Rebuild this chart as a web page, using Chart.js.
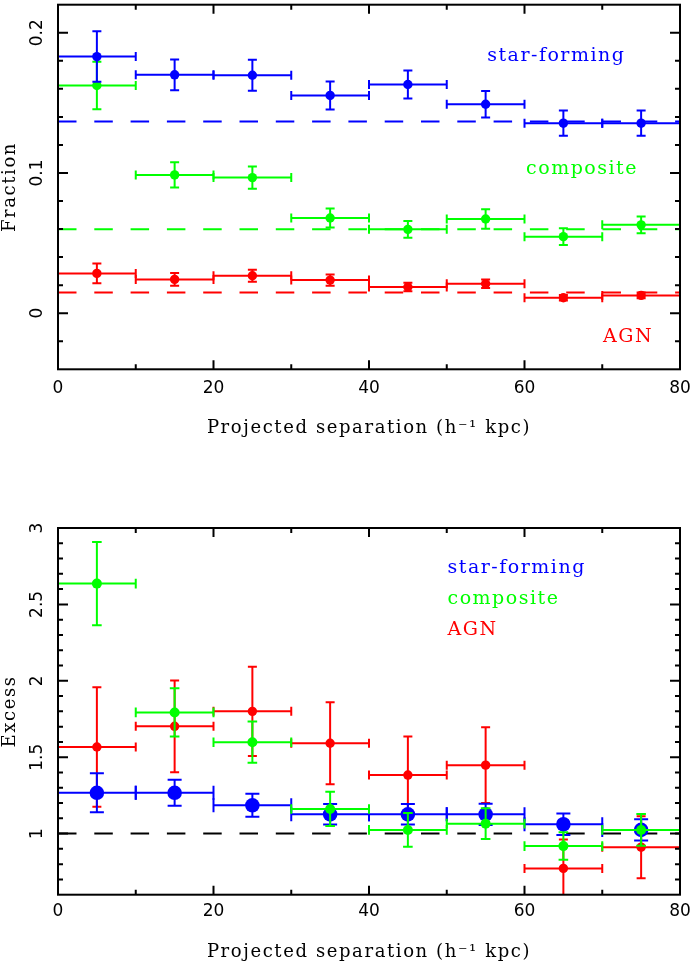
<!DOCTYPE html>
<html><head><meta charset="utf-8">
<script src="https://cdn.jsdelivr.net/npm/chart.js@4.4.1/dist/chart.umd.min.js"></script>
<style>
html,body{margin:0;padding:0;background:#fff;}
#wrap{position:relative;width:693px;height:964px;overflow:hidden;}
canvas{position:absolute;left:0;}
#c1{top:0;}
#c2{top:482px;}
</style></head><body>
<div id="wrap">
<canvas id="c1" width="693" height="482" style="width:693px;height:482px"></canvas>
<canvas id="c2" width="693" height="482" style="width:693px;height:482px"></canvas>
</div>
<script>
// ---------------- data ----------------
const separation = [5, 15, 25, 35, 45, 55, 65, 75];          // bin centres (h^-1 kpc)
const binHalfWidth = [5, 5, 5, 5, 5, 5, 5, 5];
const seriesNames = ['star-forming', 'composite', 'AGN'];

// top panel: fraction
const fracSF      = [0.183, 0.170, 0.1697, 0.1553, 0.1631, 0.149, 0.1355, 0.1355];
const fracSFErr   = [0.018, 0.011, 0.011, 0.010, 0.010, 0.0095, 0.009, 0.009];
const fracComp    = [0.1624, 0.0986, 0.0967, 0.0679, 0.0598, 0.0672, 0.0546, 0.063];
const fracCompErr = [0.017, 0.009, 0.008, 0.0067, 0.006, 0.007, 0.006, 0.006];
const fracAGN     = [0.0284, 0.0241, 0.0267, 0.0236, 0.0187, 0.021, 0.011, 0.0127];
const fracAGNErr  = [0.0071, 0.0045, 0.0043, 0.004, 0.003, 0.003, 0.002, 0.002];
const fracAverage = [0.1367, 0.0598, 0.0147];   // SF, composite, AGN field averages

// bottom panel: excess
const excSF       = [1.267, 1.267, 1.185, 1.126, 1.126, 1.126, 1.061, 1.024];
const excSFErr    = [0.128, 0.085, 0.075, 0.067, 0.067, 0.07, 0.07, 0.07];
const excComp     = [2.636, 1.793, 1.598, 1.161, 1.024, 1.065, 0.918, 1.024];
const excCompErr  = [0.272, 0.158, 0.135, 0.112, 0.11, 0.101, 0.09, 0.104];
const excAGN      = [1.567, 1.702, 1.80, 1.591, 1.383, 1.448, 0.772, 0.911];
const excAGNErr   = [0.391, 0.30, 0.292, 0.268, 0.252, 0.248, 0.19, 0.203];
const excBaseline = 1;

// ticks
const xTicks = [0, 20, 40, 60, 80];
const xTickLabels = ['0', '20', '40', '60', '80'];
const xMinorTicks = [10, 30, 50, 70];
const yTicksTop = [0, 0.1, 0.2];
const yTickLabelsTop = ['0', '0.1', '0.2'];
const yMinorTop = [-0.02, 0.02, 0.04, 0.06, 0.08, 0.12, 0.14, 0.16, 0.18];
const yTicksBot = [1, 1.5, 2, 2.5, 3];
const yTickLabelsBot = ['1', '1.5', '2', '2.5', '3'];
const yMinorBot = [0.7, 0.8, 0.9, 1.1, 1.2, 1.3, 1.4, 1.6, 1.7, 1.8, 1.9, 2.1, 2.2, 2.3, 2.4, 2.6, 2.7, 2.8, 2.9];

// ---------------- styling ----------------
const BLUE = '#0000ff', GREEN = '#00ff00', RED = '#ff0000';
const tickFont = {family: 'DejaVu Sans', size: 17};
const serifFont = {family: 'DejaVu Serif', size: 18, lineHeight: 1.1};
const xTitle = 'Projected separation (h\u207B\u00B9 kpc)';

function pts(ys) { return separation.map((x, i) => ({x: x, y: ys[i]})); }

function errSet(ys, errs, color, r, cap) {
  return {data: pts(ys), xErr: binHalfWidth, yErr: errs, capSize: cap,
    backgroundColor: color, borderColor: color, pointRadius: r, pointBorderWidth: 0,
    pointHoverRadius: r, showLine: false};
}
function hLine(v, color) {
  return {data: [{x: 0, y: v}, {x: 80, y: v}], showLine: true, borderColor: color,
    borderWidth: 2, borderDash: [18.5, 17.8], pointRadius: 0, fill: false};
}

const errorBarPlugin = {
  id: 'errbars',
  beforeDatasetDraw(chart, args) {
    const ds = chart.data.datasets[args.index];
    if (!ds.yErr) return;
    const {ctx, chartArea: a} = chart;
    const xs = chart.scales.x, ys = chart.scales.y;
    ctx.save();
    ctx.beginPath(); ctx.rect(a.left, a.top, a.right - a.left, a.bottom - a.top); ctx.clip();
    ctx.strokeStyle = ds.borderColor; ctx.lineWidth = 2; ctx.lineCap = 'butt';
    const c = ds.capSize;
    ds.data.forEach((p, i) => {
      const px = xs.getPixelForValue(p.x), py = ys.getPixelForValue(p.y);
      const xl = xs.getPixelForValue(p.x - ds.xErr[i]), xr = xs.getPixelForValue(p.x + ds.xErr[i]);
      const yt = ys.getPixelForValue(p.y + ds.yErr[i]), yb = ys.getPixelForValue(p.y - ds.yErr[i]);
      ctx.beginPath();
      ctx.moveTo(xl, py); ctx.lineTo(xr, py);
      ctx.moveTo(xl, py - c); ctx.lineTo(xl, py + c);
      ctx.moveTo(xr, py - c); ctx.lineTo(xr, py + c);
      ctx.moveTo(px, yt); ctx.lineTo(px, yb);
      ctx.moveTo(px - c, yt); ctx.lineTo(px + c, yt);
      ctx.moveTo(px - c, yb); ctx.lineTo(px + c, yb);
      ctx.stroke();
    });
    ctx.restore();
  }
};

const framePlugin = {
  id: 'frame',
  afterLayout(chart) {
    Object.values(chart.scales).forEach(s => {
      if (s._lsPatched) return;
      const orig = s.drawTitle;
      s.drawTitle = function () {
        const ctx = this.ctx; ctx.save(); ctx.letterSpacing = '1.6px'; orig.apply(this, arguments); ctx.restore();
      };
      s._lsPatched = true;
    });
  },
  afterDraw(chart, args, opts) {
    const {ctx, chartArea: a} = chart;
    const xs = chart.scales.x, ys = chart.scales.y;
    ctx.save();
    ctx.strokeStyle = '#000'; ctx.lineWidth = 2;
    ctx.strokeRect(a.left, a.top, a.right - a.left, a.bottom - a.top);
    ctx.beginPath();
    const xt = (vals, len) => vals.forEach(v => {
      const p = xs.getPixelForValue(v);
      ctx.moveTo(p, a.bottom); ctx.lineTo(p, a.bottom - len);
      ctx.moveTo(p, a.top); ctx.lineTo(p, a.top + len);
    });
    const yt = (vals, len) => vals.forEach(v => {
      const p = ys.getPixelForValue(v);
      ctx.moveTo(a.left, p); ctx.lineTo(a.left + len, p);
      ctx.moveTo(a.right, p); ctx.lineTo(a.right - len, p);
    });
    xt(xTicks, 9); xt(xMinorTicks, 5);
    yt(opts.yMajor, 10); yt(opts.yMinor, 5);
    ctx.stroke();
    // series labels
    ctx.font = '19px "DejaVu Serif"';
    ctx.letterSpacing = '1.5px';
    ctx.textAlign = 'left'; ctx.textBaseline = 'alphabetic';
    opts.labels.forEach(l => {
      ctx.fillStyle = l.color;
      ctx.fillText(l.text, xs.getPixelForValue(l.x), ys.getPixelForValue(l.y));
    });
    ctx.restore();
  }
};

function zeroPad(s) { s.paddingLeft = 0; s.paddingRight = 0; s.paddingTop = 0; s.paddingBottom = 0; }

function makeChart(id, cfg) {
  return new Chart(document.getElementById(id), {
    type: 'scatter',
    data: {datasets: cfg.datasets},
    options: {
      responsive: false, animation: false, devicePixelRatio: 1,
      events: [],
      layout: {padding: {left: 0, right: 13, top: cfg.top, bottom: 0}},
      plugins: {
        legend: {display: false}, tooltip: {enabled: false},
        frame: {yMajor: cfg.yTicks, yMinor: cfg.yMinor, labels: cfg.labels}
      },
      scales: {
        x: {
          type: 'linear', min: 0, max: 80,
          grid: {display: false, drawTicks: false}, border: {display: false},
          afterBuildTicks: s => { s.ticks = xTicks.map(v => ({value: v})); },
          afterFit: s => { s.height = cfg.xHeight; zeroPad(s); },
          ticks: {font: tickFont, color: '#000', padding: cfg.xTickPad, maxRotation: 0, autoSkip: false,
                  callback: (v, i) => xTickLabels[i]},
          title: {display: true, text: xTitle, font: serifFont, color: '#000',
                  padding: {top: 0, bottom: cfg.xTitlePad}}
        },
        y: {
          type: 'linear', min: cfg.yMin, max: cfg.yMax,
          grid: {display: false, drawTicks: false}, border: {display: false},
          afterBuildTicks: s => { s.ticks = cfg.yTicks.map(v => ({value: v})); },
          afterFit: s => { s.width = 58; zeroPad(s); },
          ticks: {font: tickFont, color: '#000', padding: 6.5, minRotation: 90, maxRotation: 90,
                  crossAlign: 'center', autoSkip: false, callback: (v, i) => cfg.yLabels[i]},
          title: {display: true, text: cfg.yTitle, font: serifFont, color: '#000', padding: 0}
        }
      }
    },
    plugins: [errorBarPlugin, framePlugin]
  });
}

makeChart('c1', {
  top: 3, xHeight: 112.7, xTickPad: 9, xTitlePad: 44,
  yMin: -0.04, yMax: 0.22, yTicks: yTicksTop, yLabels: yTickLabelsTop, yMinor: yMinorTop,
  yTitle: 'Fraction',
  datasets: [
    errSet(fracSF, fracSFErr, BLUE, 4.7, 4.5),
    errSet(fracComp, fracCompErr, GREEN, 4.7, 4.5),
    errSet(fracAGN, fracAGNErr, RED, 4.7, 4.5),
    hLine(fracAverage[0], BLUE),
    hLine(fracAverage[1], GREEN),
    hLine(fracAverage[2], RED)
  ],
  labels: [
    {text: seriesNames[0], color: BLUE, x: 55.2, y: 0.1795},
    {text: seriesNames[1], color: GREEN, x: 60.2, y: 0.0996},
    {text: seriesNames[2], color: RED, x: 70.1, y: -0.0208}
  ]
});

makeChart('c2', {
  top: 46, xHeight: 69.3, xTickPad: 7, xTitlePad: 2,
  yMin: 0.6, yMax: 3, yTicks: yTicksBot, yLabels: yTickLabelsBot, yMinor: yMinorBot,
  yTitle: 'Excess',
  datasets: [
    errSet(excComp, excCompErr, GREEN, 5, 4.8),
    errSet(excSF, excSFErr, BLUE, 7.3, 7),
    errSet(excAGN, excAGNErr, RED, 4.7, 4.5),
    hLine(excBaseline, '#000')
  ],
  labels: [
    {text: seriesNames[0], color: BLUE, x: 50.1, y: 2.704},
    {text: seriesNames[1], color: GREEN, x: 50.1, y: 2.50},
    {text: seriesNames[2], color: RED, x: 50.1, y: 2.30}
  ]
});
</script>
</body></html>
